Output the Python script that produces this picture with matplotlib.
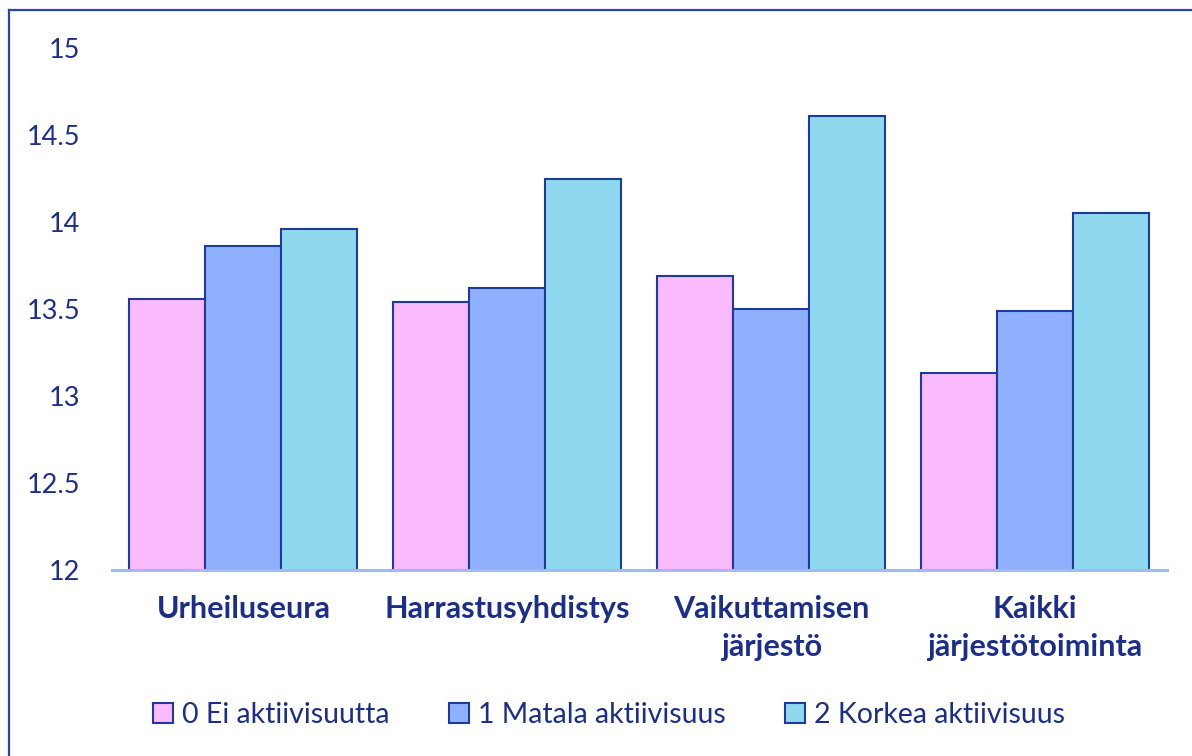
import matplotlib
matplotlib.use("Agg")
import matplotlib.pyplot as plt
from matplotlib.lines import Line2D
import numpy as np

categories = ["Urheiluseura", "Harrastusyhdistys", "Vaikuttamisen\njärjestö", "Kaikki\njärjestötoiminta"]
series_names = ["0 Ei aktiivisuutta", "1 Matala aktiivisuus", "2 Korkea aktiivisuus"]
ei_aktiivisuutta = [13.56, 13.54, 13.69, 13.13]
matala_aktiivisuus = [13.86, 13.62, 13.50, 13.49]
korkea_aktiivisuus = [13.96, 14.25, 14.61, 14.05]
yticks = [12, 12.5, 13, 13.5, 14, 14.5, 15]
ytick_labels = ["12", "12.5", "13", "13.5", "14", "14.5", "15"]

colors = ["#F9BBFC", "#8FB0FF", "#8FD9EE"]
edge = "#1E3A9C"
text_color = "#1B2E8C"

plt.rcParams['font.family'] = ['Lato', 'DejaVu Sans']

W, H = 1192, 756
fig = plt.figure(figsize=(W / 100, H / 100), dpi=100)
left, right, top, bottom = 111.5, 1167, 48, 570
ax = fig.add_axes([left / W, 1 - bottom / H, (right - left) / W, (bottom - top) / H])

x = np.arange(len(categories))
w = 0.288
data = [ei_aktiivisuutta, matala_aktiivisuus, korkea_aktiivisuus]
for i, (vals, c, name) in enumerate(zip(data, colors, series_names)):
    ax.bar(x + (i - 1) * w, vals, width=w, color=c, edgecolor=edge, linewidth=1.5, label=name, zorder=2)

ax.set_xlim(-0.5, len(categories) - 0.5)
ax.set_ylim(12, 15)
ax.set_yticks(yticks)
ax.set_yticklabels(ytick_labels, fontsize=19.5, color=text_color)
ax.set_xticks(x)
ax.set_xticklabels(categories, fontsize=22, fontweight='bold', color=text_color, linespacing=1.42)
ax.tick_params(axis='y', length=0, pad=22.5)
ax.tick_params(axis='x', length=0, pad=18)
for s in ['top', 'right', 'left']:
    ax.spines[s].set_visible(False)
ax.spines['bottom'].set_color("#A3B9F2")
ax.spines['bottom'].set_linewidth(2.2)
ax.spines['bottom'].set_zorder(3)

leg = fig.legend(loc='center', bbox_to_anchor=(609 / W, 1 - 715 / H), ncol=3, frameon=False,
                 fontsize=20.5, handlelength=0.7, handleheight=0.7, handletextpad=0.3,
                 columnspacing=2.1, labelcolor=text_color)

# outer border (top and left visible)
fig.add_artist(Line2D([8.5 / W, 8.5 / W], [0, 1 - 10 / H], color="#2A45A8", lw=1.6, transform=fig.transFigure))
fig.add_artist(Line2D([8.5 / W, 1], [1 - 10 / H, 1 - 10 / H], color="#2A45A8", lw=1.6, transform=fig.transFigure))

fig.savefig("out.png", dpi=100, facecolor="white")
